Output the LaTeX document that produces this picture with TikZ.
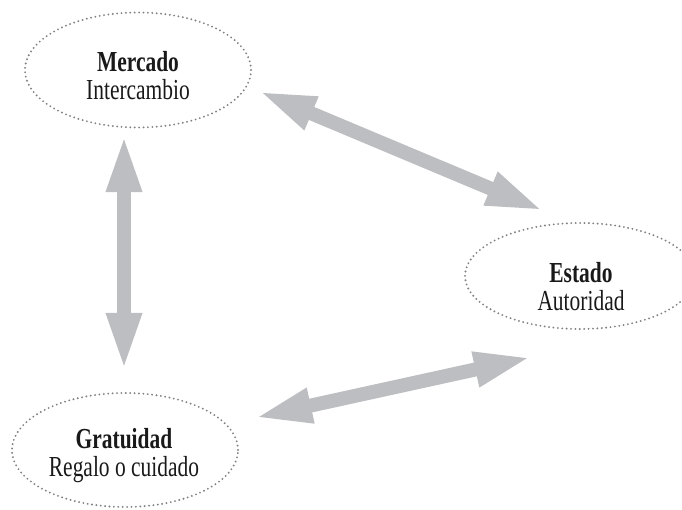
\documentclass[tikz,border=0pt]{standalone}
\usepackage{fontspec}
\setmainfont{Liberation Serif}[FakeStretch=0.74]
\usetikzlibrary{shapes.geometric,arrows.meta,calc}
\definecolor{arrowgray}{RGB}{189,190,193}
\definecolor{dotgray}{RGB}{130,130,130}
\definecolor{textblack}{RGB}{25,25,25}
\tikzset{
  ell/.style={ellipse, draw=dotgray, line width=2.1bp, line cap=round,
    dash pattern=on 0bp off 4.4bp, inner sep=0pt},
  txt/.style={align=center, text=textblack, inner sep=0pt,
    font=\fontsize{29bp}{28bp}\selectfont},
  dblarrow/.style={draw=arrowgray, line width=14bp,
    {Triangle[width=32bp,length=58bp,fill=arrowgray]}-{Triangle[width=32bp,length=58bp,fill=arrowgray]}}
}
\begin{document}
\begin{tikzpicture}[x=1bp,y=-1bp]
\useasboundingbox (0,0) rectangle (682,510);
\node[ell, minimum width=226bp, minimum height=115bp] (m) at (138,70) {};
\node[ell, minimum width=230bp, minimum height=106bp] (e) at (580,276) {};
\node[ell, minimum width=226bp, minimum height=114bp] (g) at (125,450) {};
\node[txt] (mt) at (138,76) {\textbf{Mercado}\\Intercambio};
\node[txt] (et) at (581,287) {\textbf{Estado}\\Autoridad};
\node[txt] (gt) at (124,456) {\textbf{Gratuidad}\\Regalo o cuidado};
\draw[dblarrow] ($(m.east)+(6,21)$) -- ($(e.north)+(-36,-11)$);
\draw[dblarrow] ($(m.south)+(-14,5.5)$) -- ($(g.north)+(-1,-21)$);
\draw[dblarrow] ($(g.east)+(15,-32)$) -- ($(e.south)+(-48,27)$);
\end{tikzpicture}
\end{document}
